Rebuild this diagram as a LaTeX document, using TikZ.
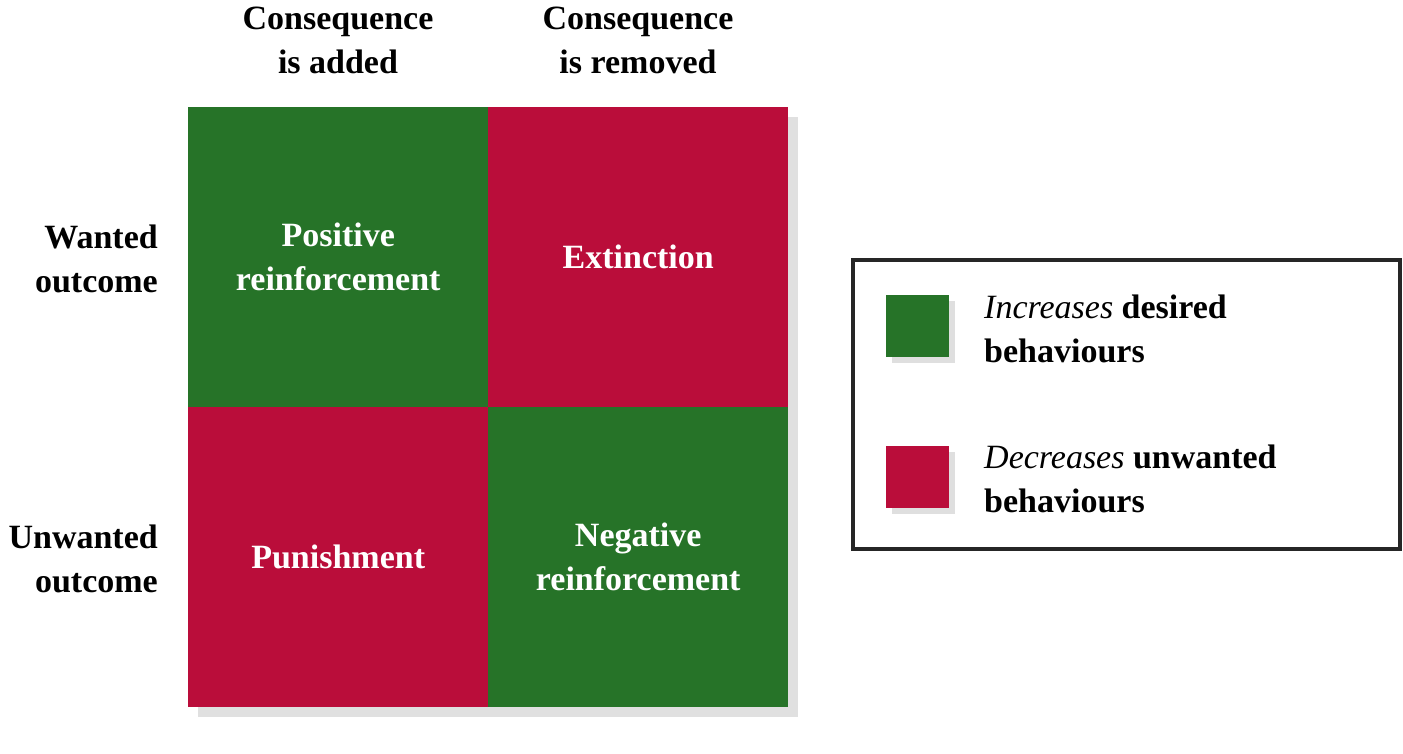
\documentclass[tikz,border=0pt]{standalone}
\usepackage{fontspec}
\setmainfont{Liberation Serif}
\usetikzlibrary{shadows}
\definecolor{gr}{HTML}{267328}
\definecolor{rd}{HTML}{BA0D3A}
\tikzset{x=1pt,y=-1pt,
 cell/.style={draw=none,minimum width=300pt,minimum height=300pt,inner sep=0pt,anchor=north west,font=\bfseries\fontsize{34}{44}\selectfont,text=white,align=center},
 lab/.style={font=\bfseries\fontsize{34}{44}\selectfont,align=center,inner sep=0pt},
 sw/.style={minimum width=63pt,minimum height=62pt,inner sep=0pt,anchor=north west,drop shadow={shadow xshift=6pt,shadow yshift=-6pt,opacity=0.25}},
 lg/.style={font=\fontsize{34}{44}\selectfont,align=left,anchor=west,inner sep=0pt}}
\begin{document}
\begin{tikzpicture}
\useasboundingbox (0,0) rectangle (1403,753);
\fill[black!12] (198,117) rectangle (798,717);
\node[cell,fill=gr] (pr) at (188,107) {Positive\\reinforcement};
\node[cell,fill=rd] (ex) at (488,107) {Extinction};
\node[cell,fill=rd] (pu) at (188,407) {Punishment};
\node[cell,fill=gr] (nr) at (488,407) {Negative\\reinforcement};
\node[lab] (c1) at (338,40) {Consequence\\is added};
\node[lab] (c2) at (638,40) {Consequence\\is removed};
\node[lab,align=right,anchor=east] (r1) at (158,259) {Wanted\\outcome};
\node[lab,align=right,anchor=east] (r2) at (158,559) {Unwanted\\outcome};
\node[draw=black!85,line width=3.5pt,minimum width=547pt,minimum height=289pt,anchor=north west] (box) at (851,258) {};
\node[sw,fill=gr] (s1) at (886,295) {};
\node[sw,fill=rd] (s2) at (886,446) {};
\node[lg] (t1) at (984,329) {\textit{Increases} \textbf{desired}\\\textbf{behaviours}};
\node[lg] (t2) at (984,479) {\textit{Decreases} \textbf{unwanted}\\\textbf{behaviours}};
\end{tikzpicture}
\end{document}
